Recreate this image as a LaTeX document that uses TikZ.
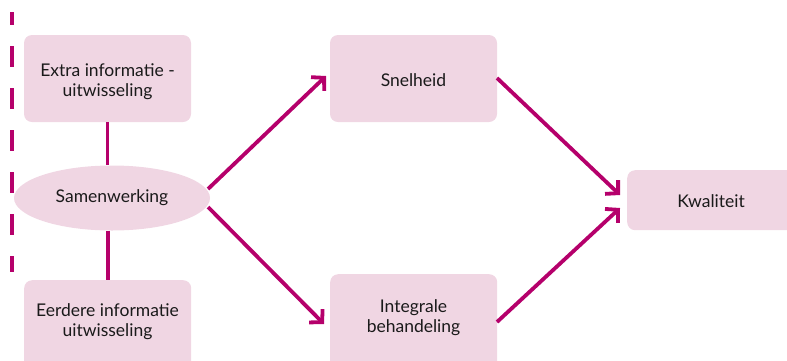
\documentclass[tikz,border=0pt]{standalone}
\usepackage{fontspec}
\setmainfont{Lato}
\usetikzlibrary{arrows.meta,shapes.geometric}
\definecolor{mag}{HTML}{B5006B}
\definecolor{boxfill}{HTML}{F0D6E3}
\definecolor{txt}{HTML}{1A1A1A}
\begin{document}
\begin{tikzpicture}[x=1pt,y=-1pt,
  lbl/.style={align=center,text=txt,font=\fontsize{17.5}{20}\selectfont,inner sep=0pt},
  box/.style={draw=none,fill=boxfill,rounded corners=8pt,lbl},
  conn/.style={draw=mag,line width=3.8pt},
  arr/.style={conn,-{Straight Barb[length=9pt,width=19pt,line width=3.8pt]}}]
\useasboundingbox (0,0) rectangle (787,360);
\draw[mag,line width=3.8pt,dash pattern=on 21pt off 21pt,dash phase=8pt] (12,12) -- (12,272);
\node[box,minimum width=167pt,minimum height=87pt] (extra) at (107.5,78.5) {};
\node[lbl] (extratxt) at (107.5,82) {Extra informatie -\\uitwisseling};
\node[box,minimum width=167pt,minimum height=90pt,anchor=north west] (eerdere) at (24,280) {};
\node[lbl] (eerderetxt) at (107.5,322) {Eerdere informatie\\uitwisseling};
\node[box,minimum width=167pt,minimum height=87pt] (snel) at (413.5,78.5) {};
\node[lbl] (sneltxt) at (413.5,80) {Snelheid};
\node[box,minimum width=167pt,minimum height=96pt,anchor=north west] (integ) at (330,274) {};
\node[lbl] (integtxt) at (413.5,318) {Integrale\\behandeling};
\node[box,minimum width=180pt,minimum height=60pt,anchor=north west] (kwal) at (627,170) {};
\node[lbl] (kwaltxt) at (711,201) {Kwaliteit};
\node[ellipse,fill=boxfill,minimum width=196pt,minimum height=65pt,lbl] (samen) at (112,198) {Samenwerking};
\draw[conn] (extra.south) -- (samen.north -| extra.south);
\draw[conn] (samen.south -| eerdere.north) -- (eerdere.north);
\coordinate (a1s) at (208,189);
\coordinate (a1e) at (326,76);
\coordinate (a2s) at (208,207);
\coordinate (a2e) at (324,324);
\coordinate (a3s) at (497,78);
\coordinate (a3e) at (620,195);
\coordinate (a4s) at (497,322);
\coordinate (a4e) at (620,208);
\draw[arr] (a1s) -- (a1e);
\draw[arr] (a2s) -- (a2e);
\draw[arr] (a3s) -- (a3e);
\draw[arr] (a4s) -- (a4e);
\end{tikzpicture}
\end{document}
